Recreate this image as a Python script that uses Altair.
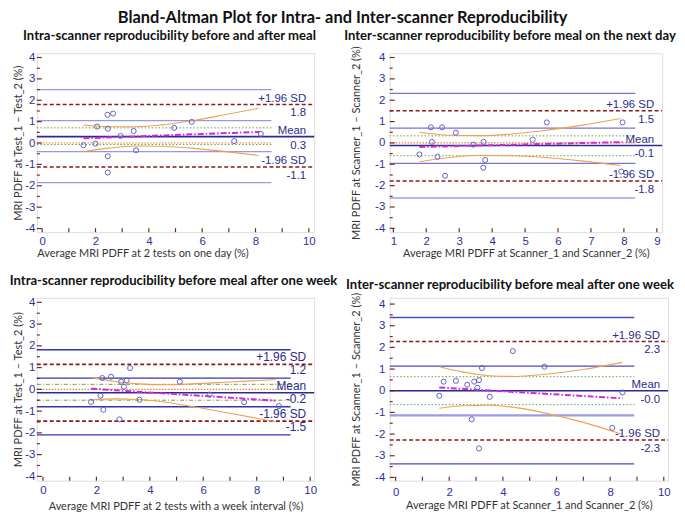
import altair as alt
import pandas as pd

MAIN_TITLE = "Bland-Altman Plot for Intra- and Inter-scanner Reproducibility"
UP_LBL = ["+1.96 SD", "Mean", "-1.96 SD"]

# ---------------- Panel 1 ----------------
p1_title = "Intra-scanner reproducibility before and after meal"
p1_xtitle = "Average MRI PDFF at 2 tests on one day (%)"
p1_ytitle = "MRI PDFF at Test_1 \u2013 Test_2 (%)"
p1_x = [1.55, 2.0, 2.06, 2.45, 2.66, 2.46, 2.46, 2.46, 2.94, 3.43, 3.52, 4.95, 5.61, 7.2, 8.2]
p1_y = [-0.1, -0.03, 0.77, 1.32, 1.38, 0.67, -0.62, -1.38, 0.33, 0.56, -0.34, 0.71, 0.99, 0.09, 0.43]
p1_loa = [1.8, 0.3, -1.12]
p1_loa_txt = ["1.8", "0.3", "-1.1"]
p1_ci = [2.5, 1.05, -0.4, -1.85]
p1_green = [0.71, -0.07]
p1_reg_x = [1.55, 8.15]
p1_reg_y = [0.22, 0.52]
p1_band_x = [1.55, 2.5, 3.5, 4.5, 5.6, 6.8, 8.1]
p1_band_hi = [0.84, 0.76, 0.76, 0.85, 1.04, 1.31, 1.62]
p1_band_lo = [-0.40, -0.24, -0.14, -0.15, -0.24, -0.39, -0.58]

# ---------------- Panel 2 ----------------
p2_title = "Inter-scanner reproducibility before meal on the next day"
p2_xtitle = "Average MRI PDFF at Scanner_1 and Scanner_2 (%)"
p2_ytitle = "MRI PDFF at Scanner_1 \u2013 Scanner_2 (%)"
p2_x = [1.79, 2.14, 2.17, 2.48, 2.34, 2.57, 2.90, 3.43, 3.74, 3.79, 3.73, 5.23, 5.66, 7.96, 7.92]
p2_y = [-0.54, 0.73, 0.05, 0.73, -0.65, -1.54, 0.48, -0.08, 0.05, -0.8, -1.16, 0.15, 0.96, 0.96, -1.34]
p2_loa = [1.51, -0.12, -1.78]
p2_loa_txt = ["1.5", "-0.1", "-1.8"]
p2_ci = [2.32, 0.69, -0.96, -2.58]
p2_green = [0.33, -0.6]
p2_reg_x = [1.79, 7.96]
p2_reg_y = [-0.19, 0.04]
p2_band_x = [1.8, 2.7, 3.6, 4.6, 5.6, 6.7, 7.9]
p2_band_hi = [0.50, 0.36, 0.34, 0.42, 0.58, 0.82, 1.14]
p2_band_lo = [-0.88, -0.68, -0.58, -0.60, -0.68, -0.84, -1.06]

# ---------------- Panel 3 ----------------
p3_title = "Intra-scanner reproducibility before meal after one week"
p3_xtitle = "Average MRI PDFF at 2 tests with a week interval (%)"
p3_ytitle = "MRI PDFF at Test_1 \u2013 Test_2 (%)"
p3_x = [1.8, 2.15, 2.22, 2.26, 2.55, 2.93, 2.86, 3.13, 3.03, 3.26, 3.61, 5.12, 6.24, 7.53, 8.83]
p3_y = [-0.58, -0.29, 0.52, -0.94, 0.58, 0.35, -1.38, 0.41, 0.12, 0.98, -0.48, 0.35, -0.24, -0.59, -0.77]
p3_loa = [1.15, -0.16, -1.46]
p3_loa_txt = ["1.2", "-0.2", "-1.5"]
p3_ci = [1.82, 0.52, -0.8, -2.09]
p3_green = [0.23, -0.5]
p3_reg_x = [1.8, 8.7]
p3_reg_y = [0.03, -0.52]
p3_band_x = [1.8, 2.7, 3.6, 4.6, 5.6, 7.0, 8.7]
p3_band_hi = [0.55, 0.36, 0.25, 0.21, 0.25, 0.34, 0.45]
p3_band_lo = [-0.49, -0.44, -0.47, -0.59, -0.79, -1.10, -1.49]

# ---------------- Panel 4 ----------------
p4_title = "Inter-scanner reproducibility before meal after one week"
p4_xtitle = "Average MRI PDFF at Scanner_1 and Scanner_2 (%)"
p4_ytitle = "MRI PDFF at Scanner_1 \u2013 Scanner_2 (%)"
p4_x = [1.63, 1.79, 2.25, 2.67, 2.93, 3.11, 3.05, 3.22, 3.51, 2.84, 3.11, 4.37, 5.55, 8.08, 8.46]
p4_y = [-0.23, 0.42, 0.46, 0.28, 0.42, 0.49, 0.14, 1.05, -0.28, -1.32, -2.66, 1.83, 1.11, -1.71, -0.08]
p4_loa = [2.27, 0.0, -2.27]
p4_loa_txt = ["2.3", "-0.0", "-2.3"]
p4_ci = [3.38, 1.14, -1.14, -3.37]
p4_green = [0.65, -0.64]
p4_reg_x = [1.63, 8.46]
p4_reg_y = [0.15, -0.35]
p4_band_x = [1.63, 2.5, 3.5, 4.5, 5.5, 7.0, 8.45]
p4_band_hi = [1.11, 0.87, 0.69, 0.66, 0.75, 0.98, 1.31]
p4_band_lo = [-0.81, -0.69, -0.67, -0.78, -1.01, -1.46, -2.01]

Y_MAJOR = [-4, -3, -2, -1, 0, 1, 2, 3, 4]
Y_MINOR = [-3.5, -2.5, -1.5, -0.5, 0.5, 1.5, 2.5, 3.5]

NAVY = "#30309a"
FRAME = "#7a2424"


def panel(title, xtitle, ytitle, px, py, loa, loa_txt, ci, green, rx, ry, bx, bhi, blo, st):
    x0, x1 = st["xdom"]
    W, H = st["w"], st["h"]
    xscale = alt.Scale(domain=[x0, x1], nice=False, zero=False)
    yscale = alt.Scale(domain=st["ydom"], nice=False, zero=False)
    xaxis = alt.Axis(values=st["xvals"], title=xtitle, labelExpr="'' + datum.value",
                     labelFont="Liberation Sans", labelFontSize=st["tick_fs"], labelColor=NAVY,
                     labelPadding=st["xlp"], minExtent=st["xext"], maxExtent=st["xext"],
                     titlePadding=st["xtp"], titleFont="Lato", titleFontSize=11,
                     titleFontWeight="normal", titleColor="#333333",
                     titleAnchor=st["xt_anchor"],
                     ticks=False, tickSize=0, domain=False, grid=False, labelFlush=False)
    yaxis = alt.Axis(values=Y_MAJOR, title=ytitle, labelExpr="'' + datum.value",
                     labelFont="Liberation Sans", labelFontSize=st["tick_fs"], labelColor=NAVY,
                     labelPadding=st["ylp"], minExtent=st["yext"], maxExtent=st["yext"],
                     titlePadding=st["ytp"], titleFont="Lato", titleFontSize=11,
                     titleFontWeight="normal", titleColor="#333333",
                     ticks=False, tickSize=0, domain=False, grid=False, labelFlush=False)

    def X(f):
        return alt.X(f, type="quantitative", scale=xscale, axis=xaxis)

    def Y(f):
        return alt.Y(f, type="quantitative", scale=yscale, axis=yaxis)

    xe = st["ci_end"]
    ci_df = pd.DataFrame({"y": ci, "x": x0, "x2": xe, "c": st["ci_colors"], "w": st["ci_widths"]})
    ci_layer = alt.Chart(ci_df).mark_rule().encode(
        x=X("x"), x2="x2", y=Y("y"),
        color=alt.Color("c:N", scale=None), strokeWidth=alt.StrokeWidth("w:Q", scale=None))

    green_df = pd.DataFrame({"y": green, "x": x0, "x2": xe})
    green_layer = alt.Chart(green_df).mark_rule(color="#6f9e4a", strokeWidth=1,
                                                strokeDash=st["green_dash"]).encode(
        x=X("x"), x2="x2", y=Y("y"))
    zero_df = pd.DataFrame({"y": [0.0], "x": x0, "x2": xe})
    zero_layer = alt.Chart(zero_df).mark_rule(color="#e0862e", strokeWidth=1.2,
                                              strokeDash=[1.5, 1.5]).encode(
        x=X("x"), x2="x2", y=Y("y"))

    lim_df = pd.DataFrame({"y": [loa[0], loa[2]], "x": x0, "x2": x1})
    lim_layer = alt.Chart(lim_df).mark_rule(color="#8b1a1a", strokeWidth=1.6,
                                            strokeDash=[4, 2.5]).encode(
        x=X("x"), x2="x2", y=Y("y"))
    mean_df = pd.DataFrame({"y": [loa[1]], "x": x0, "x2": x1})
    mean_layer = alt.Chart(mean_df).mark_rule(color="#2a2a96", strokeWidth=1.6).encode(
        x=X("x"), x2="x2", y=Y("y"))

    band_df = pd.concat([
        pd.DataFrame({"x": bx, "y": bhi, "s": "hi"}),
        pd.DataFrame({"x": bx, "y": blo, "s": "lo"}),
    ])
    band_layer = alt.Chart(band_df).mark_line(color="#f0a050", strokeWidth=1.1,
                                              interpolate="monotone").encode(
        x=X("x"), y=Y("y"), detail="s:N")

    reg_df = pd.DataFrame({"x": rx, "y": ry})
    reg_layer = alt.Chart(reg_df).mark_line(color="#d22ad2", strokeWidth=2,
                                            strokeDash=[6, 2, 1.5, 2]).encode(
        x=X("x"), y=Y("y"))

    pts_df = pd.DataFrame({"x": px, "y": py})
    pts_layer = alt.Chart(pts_df).mark_point(shape="circle", filled=False, size=26,
                                             strokeWidth=1, color="#6464c0", opacity=1).encode(
        x=X("x"), y=Y("y"))

    above_df = pd.DataFrame({"y": loa, "t": UP_LBL, "x": x1})
    below_df = pd.DataFrame({"y": loa, "t": loa_txt, "x": x1})
    above_layer = alt.Chart(above_df).mark_text(
        align="right", baseline="bottom", dx=-st["lbl_dx"], dy=st["above_dy"],
        font="Liberation Sans", fontSize=st["lbl_fs"], color="#2c2c88").encode(
        x=X("x"), y=Y("y"), text="t:N")
    below_layer = alt.Chart(below_df).mark_text(
        align="right", baseline="top", dx=-st["lbl_dx"], dy=st["below_dy"],
        font="Liberation Sans", fontSize=st["lbl_fs"], color="#2c2c88").encode(
        x=X("x"), y=Y("y"), text="t:N")

    # inward ticks
    ymaj = alt.Chart(pd.DataFrame({"y": Y_MAJOR})).mark_rule(color=FRAME, strokeWidth=1.2).encode(
        y=Y("y"), x=alt.value(0), x2=alt.value(5))
    ymin = alt.Chart(pd.DataFrame({"y": Y_MINOR})).mark_rule(color=FRAME, strokeWidth=1.2).encode(
        y=Y("y"), x=alt.value(0), x2=alt.value(3))
    xt = alt.Chart(pd.DataFrame({"x": st["xticks"]})).mark_rule(color=FRAME, strokeWidth=1.2).encode(
        x=X("x"), y=alt.value(H), y2=alt.value(H - 4))

    return alt.layer(
        ci_layer, green_layer, zero_layer, lim_layer, mean_layer, band_layer, reg_layer,
        pts_layer, above_layer, below_layer, ymaj, ymin, xt,
    ).properties(
        width=W, height=H,
        title=alt.TitleParams(title, font="Lato", fontSize=13.2, fontWeight="bold",
                              color="#111111", anchor="middle", offset=st["t_off"], dx=st["t_dx"]),
    )


base = dict(tick_fs=11.5, lbl_fs=11.5, lbl_dx=8, xlp=3, xext=15, xtp=0,
            green_dash=[1.5, 2], t_off=8, t_dx=0, xt_anchor="middle",
            above_dy=-1, below_dy=3)

s1 = dict(base, w=279, h=180, xdom=[-0.2, 10.2], ydom=[-4.17, 4.2], xvals=[0, 2, 4, 6, 8, 10],
          xticks=list(range(0, 11)), ci_end=8.6, xt_anchor="start",
          ci_colors=["#9898e4"] * 4, ci_widths=[1.2] * 4, ylp=2, yext=13, ytp=0, t_dx=-6)
s2 = dict(base, w=274, h=180, xdom=[0.89, 9.16], ydom=[-4.18, 4.2], xvals=[1, 2, 3, 4, 5, 6, 7, 8, 9],
          xticks=list(range(1, 10)), ci_end=8.35,
          ci_colors=["#7474d4"] * 4, ci_widths=[1.2] * 4, ylp=5, yext=16, ytp=12,
          t_dx=-16, t_off=2)
s3 = dict(base, w=279, h=184, xdom=[-0.23, 10.15], ydom=[-4.2, 4.21], xvals=[0, 2, 4, 6, 8, 10],
          xticks=list(range(0, 11)), ci_end=9.27, lbl_fs=12, xlp=4, xext=18, xtp=2,
          above_dy=0, below_dy=1,
          ci_colors=["#3434b0"] * 4, ci_widths=[1.3] * 4, green_dash=[4, 2, 1, 2],
          ylp=2, yext=13, ytp=0, t_dx=-2)
s4 = dict(base, w=280, h=184, xdom=[-0.22, 10.16], ydom=[-4.15, 4.29], xvals=[0, 2, 4, 6, 8, 10],
          xticks=list(range(0, 11)), ci_end=8.9, xlp=6, xext=19, xtp=0,
          ci_colors=["#4a4ac4", "#4a4ac4", "#9c9ce6", "#4a4ac4"], ci_widths=[1.3, 1.3, 2.2, 1.3],
          ylp=5, yext=16, ytp=12, t_dx=-19, t_off=0)

c1 = panel(p1_title, p1_xtitle, p1_ytitle, p1_x, p1_y, p1_loa, p1_loa_txt, p1_ci, p1_green,
           p1_reg_x, p1_reg_y, p1_band_x, p1_band_hi, p1_band_lo, s1)
c2 = panel(p2_title, p2_xtitle, p2_ytitle, p2_x, p2_y, p2_loa, p2_loa_txt, p2_ci, p2_green,
           p2_reg_x, p2_reg_y, p2_band_x, p2_band_hi, p2_band_lo, s2)
c3 = panel(p3_title, p3_xtitle, p3_ytitle, p3_x, p3_y, p3_loa, p3_loa_txt, p3_ci, p3_green,
           p3_reg_x, p3_reg_y, p3_band_x, p3_band_hi, p3_band_lo, s3)
c4 = panel(p4_title, p4_xtitle, p4_ytitle, p4_x, p4_y, p4_loa, p4_loa_txt, p4_ci, p4_green,
           p4_reg_x, p4_reg_y, p4_band_x, p4_band_hi, p4_band_lo, s4)

chart = alt.concat(
    c1, c2, c3, c4, columns=2, spacing={"row": 66, "column": 76}, bounds="flush", align="each",
    title=alt.TitleParams(MAIN_TITLE, font="Lato", fontSize=16.5, fontWeight="bold",
                          color="#111111", anchor="middle", offset=3),
).properties(padding=0).configure_view(stroke=FRAME, strokeWidth=2).configure(background="white")

chart.save("out.html", embed_options={"renderer": "svg", "actions": False})
